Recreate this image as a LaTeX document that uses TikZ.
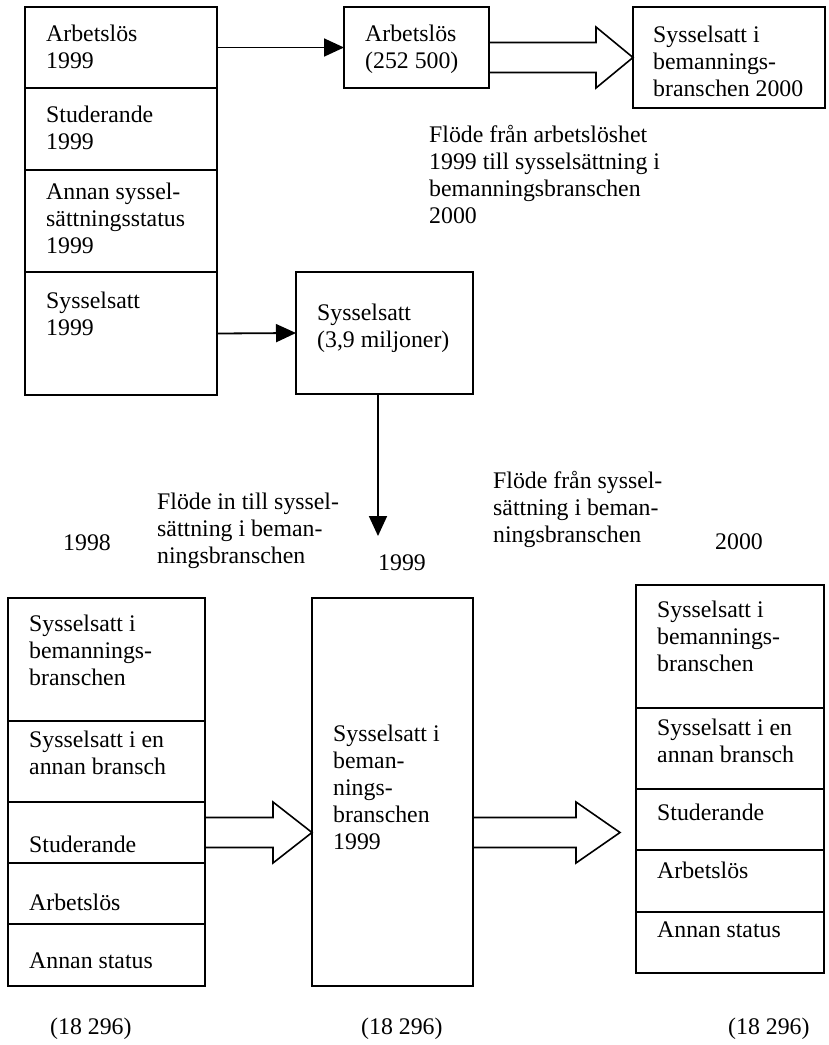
\documentclass[tikz,border=0pt]{standalone}
\usepackage{fontspec}
\setmainfont{Liberation Serif}
\usetikzlibrary{arrows.meta,calc}
\newcommand\bx[5]{\node[box, anchor=north west, minimum width={#4-#2}, minimum height={#5-#3}] (#1) at (#2,#3) {};}
\newcommand\blkarrow[3]{\draw[blk] ($(#1)+(0,-15)$) -- ($(#1)+(#3,-15)$) -- ($(#1)+(#3,-30.5)$) -- (#2) -- ($(#1)+(#3,30.5)$) -- ($(#1)+(#3,15)$) -- ($(#1)+(0,15)$);}
\begin{document}
\begin{tikzpicture}[x=1pt,y=-1pt,
  box/.style={draw, line width=1.8pt, inner sep=0pt, outer sep=0pt},
  lbl/.style={anchor=base west, inner sep=0pt, align=left, font=\fontsize{23.8}{27}\selectfont},
  arr/.style={line width=1.8pt, -{Triangle[length=20pt,width=18pt]}},
  blk/.style={line width=1.6pt, line join=miter}]
\useasboundingbox (0,0) rectangle (829,1045);
% top left stack
\bx{a1}{25}{7}{217}{88}
\bx{a2}{25}{88}{217}{170}
\bx{a3}{25}{170}{217}{272}
\bx{a4}{25}{272}{217}{395}
\bx{ab}{344}{7}{489}{88}
\bx{bem}{633}{7}{825}{108}
\bx{sy}{296}{272}{473}{394}
% bottom left stack
\bx{b1}{8}{598}{205}{721}
\bx{b2}{8}{721}{205}{802}
\bx{b3}{8}{802}{205}{863}
\bx{b4}{8}{863}{205}{924}
\bx{b5}{8}{924}{205}{986}
\bx{mid}{312}{598}{473}{986}
% bottom right stack
\bx{c1}{636}{585}{824}{708}
\bx{c2}{636}{708}{824}{789}
\bx{c3}{636}{789}{824}{850}
\bx{c4}{636}{850}{824}{912}
\bx{c5}{636}{912}{824}{973}
% texts (anchored at the baseline of the last line)
\node[lbl] (ta1) at (46,68) {Arbetslös\\1999};
\node[lbl] (ta2) at (46,149) {Studerande\\1999};
\node[lbl] (ta3) at (46,253) {Annan syssel-\\sättningsstatus\\1999};
\node[lbl] (ta4) at (46,335) {Sysselsatt\\1999};
\node[lbl] (tab) at (365,68) {Arbetslös\\(252 500)};
\node[lbl] (tbem) at (653,96) {Sysselsatt i\\bemannings-\\branschen 2000};
\node[lbl] (tflow) at (429,223) {Flöde från arbetslöshet\\1999 till sysselsättning i\\bemanningsbranschen\\2000};
\node[lbl] (tsy) at (317,347) {Sysselsatt\\(3,9 miljoner)};
\node[lbl] (t1998) at (63,550) {1998};
\node[lbl] (tflin) at (157,563) {Flöde in till syssel-\\sättning i beman-\\ningsbranschen};
\node[lbl] (t1999) at (378,570) {1999};
\node[lbl] (tflut) at (493,542) {Flöde från syssel-\\sättning i beman-\\ningsbranschen};
\node[lbl] (t2000) at (715,549) {2000};
\node[lbl] (tb1) at (29,685) {Sysselsatt i\\bemannings-\\branschen};
\node[lbl] (tb2) at (29,774) {Sysselsatt i en\\annan bransch};
\node[lbl] (tb3) at (29,852) {Studerande};
\node[lbl] (tb4) at (29,910) {Arbetslös};
\node[lbl] (tb5) at (29,968) {Annan status};
\node[lbl] (tmid) at (333,849) {Sysselsatt i\\beman-\\nings-\\branschen\\1999};
\node[lbl] (tc1) at (657,671) {Sysselsatt i\\bemannings-\\branschen};
\node[lbl] (tc2) at (657,762) {Sysselsatt i en\\annan bransch};
\node[lbl] (tc3) at (657,820) {Studerande};
\node[lbl] (tc4) at (657,878) {Arbetslös};
\node[lbl] (tc5) at (657,937) {Annan status};
\node[lbl] (n1) at (50,1034) {(18 296)};
\node[lbl] (n2) at (361,1034) {(18 296)};
\node[lbl] (n3) at (728,1034) {(18 296)};
% connectors
\draw[arr] (a1.east) -- (ab.west);
\draw[arr] (a4.east) -- (sy.west);
\coordinate (dn) at (378,536);
\draw[arr] (sy.south -| dn) -- (dn);
\coordinate (s1) at (ab.east |- bem.west);
\blkarrow{s1}{bem.west}{107}
\blkarrow{b3.east}{mid.west |- b3.east}{68}
\coordinate (s3) at (mid.east |- b3.east);
\coordinate (tip3) at (620,832.5);
\blkarrow{s3}{tip3}{103}
\end{tikzpicture}
\end{document}
